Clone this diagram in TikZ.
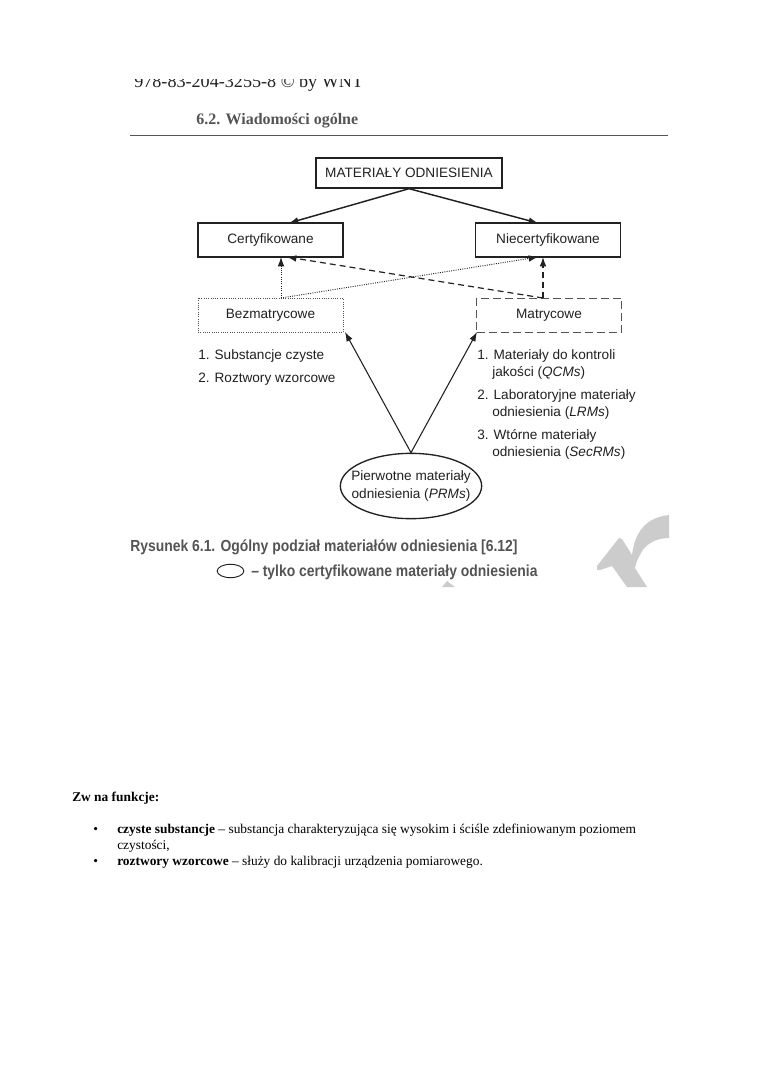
\documentclass[tikz,border=0pt]{standalone}
\usepackage{fontspec}
\setmainfont{Liberation Serif}
\newfontfamily\hv{Liberation Sans}
\newfontfamily\hvcond[FakeStretch=0.87]{Liberation Sans}
\usetikzlibrary{shapes.geometric,arrows.meta}
\definecolor{ink}{gray}{0.13}
\definecolor{head}{gray}{0.33}
\definecolor{wm}{gray}{0.8}
\tikzset{
 box/.style={draw=ink,line width=1pt,minimum width=108.75pt,minimum height=25.5pt,inner sep=0pt,font=\hv\fontsize{10.2}{12}\selectfont,text=ink},
 dotbox/.style={box,draw=head,line width=.7pt,densely dotted},
 dashbox/.style={box,draw=head,line width=.7pt,dash pattern=on 6pt off 3pt},
 txt/.style={anchor=west,inner sep=0pt,font=\hv\fontsize{10.2}{12}\selectfont,text=ink},
 arr/.style={-{Latex[length=7pt,width=5pt]},ink},
 ser/.style={anchor=west,inner sep=0pt,text=black,font=\fontsize{10.05}{12}\selectfont},
 captxt/.style={anchor=west,inner sep=0pt,text=head,font=\hvcond\bfseries\fontsize{12}{14}\selectfont},
}
\begin{document}
\begin{tikzpicture}[x=.75pt,y=-.75pt]
\useasboundingbox (0,0) rectangle (760,1075);
\fill[white] (0,0) rectangle (760,1075);
% watermark
\fill[wm] (669,515) -- (669,538) .. controls (655,538) and (644,545) .. (640,555) .. controls (637,560) and (636,564) .. (635,568) -- (647,587) -- (627,587) -- (612,566) -- (600,570) -- (597,570) -- (597,566) -- (619,538) -- (622,539) -- (632,555) .. controls (634,540) and (640,518) .. (669,515) -- cycle;
\fill[wm] (447,581) -- (442,587) -- (455,587) -- cycle;
% header
\begin{scope}
\clip (120,79) rectangle (400,100);
\node[anchor=west,inner sep=0pt,text=ink,font=\fontsize{13.6}{15}\selectfont] (isbn) at (134,83.5) {978-83-204-3255-8 © by WNT};
\end{scope}
\node[anchor=west,inner sep=0pt,text=head,font=\bfseries\fontsize{12}{14}\selectfont] (sec) at (196,121) {6.2. Wiadomości ogólne};
\draw[head,line width=.6pt] (130,135) -- (668,135);
% boxes
\node[box,minimum width=139.5pt,minimum height=22.5pt] (top) at (409,173) {MATERIAŁY ODNIESIENIA};
\node[box] (cert) at (270.5,240) {Certyfikowane};
\node[box] (ncert) at (548,240) {Niecertyfikowane};
\node[dotbox] (bez) at (270.5,315) {\textcolor{ink}{Bezmatrycowe}};
\node[dashbox] (mat) at (549,315) {\textcolor{ink}{Matrycowe}};
\node[ellipse,draw=ink,line width=1pt,minimum width=106pt,minimum height=49pt,inner xsep=-20pt,inner ysep=-10pt,align=center,text=ink,font=\hv\fontsize{10.2}{12.8}\selectfont] (prm) at (411,486) {Pierwotne materiały\\odniesienia (\textit{PRMs})};
% coordinates
\coordinate (ts) at (top.south);
\coordinate (certa) at (289,223);
\coordinate (ncerta) at (538,223);
\coordinate (certb) at (281,257);
\coordinate (certc) at (287,257);
\coordinate (ncertb) at (538,257);
\coordinate (ncertc) at (543,257);
\coordinate (beza) at (281,298);
\coordinate (mata) at (543,298);
\coordinate (bezb) at (345,332);
\coordinate (matb) at (477,332);
\coordinate (pt) at (prm.north);
% arrows
\draw[arr,line width=1.1pt] (ts) -- (certa);
\draw[arr,line width=1.1pt] (ts) -- (ncerta);
\draw[arr,densely dotted,line width=.7pt] (beza) -- (certb);
\draw[arr,densely dotted,line width=.7pt] (beza) -- (ncertb);
\draw[arr,dash pattern=on 4.5pt off 3pt,line width=.9pt] (mata) -- (certc);
\draw[arr,dash pattern=on 4.5pt off 3pt,line width=.9pt] (mata) -- (ncertc);
\draw[arr,line width=.8pt] (pt) -- (bezb);
\draw[arr,line width=.8pt] (pt) -- (matb);
% lists
\node[txt] (l1) at (198,356) {1. Substancje czyste};
\node[txt] (l2) at (198,379) {2. Roztwory wzorcowe};
\node[txt] (r1) at (477,356) {1. Materiały do kontroli};
\node[txt] (r1b) at (492,373) {jakości (\textit{QCMs})};
\node[txt] (r2) at (477,396) {2. Laboratoryjne materiały};
\node[txt] (r2b) at (492,413) {odniesienia (\textit{LRMs})};
\node[txt] (r3) at (477,436) {3. Wtórne materiały};
\node[txt] (r3b) at (492,453) {odniesienia (\textit{SecRMs})};
% caption
\node[captxt] (c1) at (130,547) {Rysunek 6.1. Ogólny podział materiałów odniesienia [6.12]};
\node[ellipse,draw=ink,line width=.7pt,minimum width=20pt,minimum height=10pt,inner sep=0pt] (leg) at (230.5,571) {};
\node[captxt] (c2) at (251,572) {– tylko certyfikowane materiały odniesienia};
% body
\node[ser] (b0) at (72,798) {\textbf{Zw na funkcje:}};
\node[ser] (b1d) at (93,830) {•};
\node[ser] (b1) at (117,830) {\textbf{czyste substancje} – substancja charakteryzująca się wysokim i ściśle zdefiniowanym poziomem};
\node[ser] (b1b) at (117,846) {czystości,};
\node[ser] (b2d) at (93,862) {•};
\node[ser] (b2) at (117,862) {\textbf{roztwory wzorcowe} – służy do kalibracji urządzenia pomiarowego.};
\end{tikzpicture}
\end{document}
